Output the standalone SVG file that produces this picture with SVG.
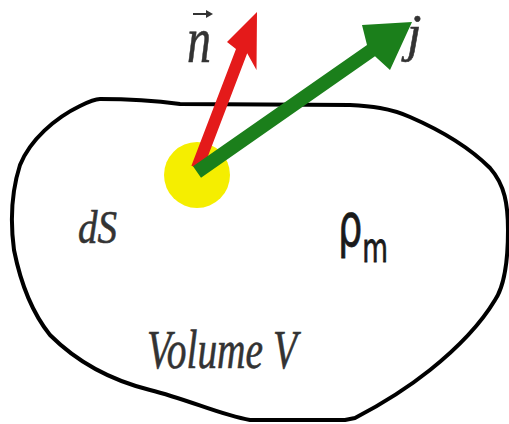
<svg xmlns="http://www.w3.org/2000/svg" width="509" height="424" viewBox="0 0 509 424">
<style>
.it{font-family:"Liberation Serif","DejaVu Serif",serif;font-style:italic;fill:#333;stroke:#333;stroke-width:0.6}
.sans{font-family:"DejaVu Sans","Liberation Sans",sans-serif;fill:#1a1a1a;stroke:#1a1a1a;stroke-width:0.8}
.outline{fill:none;stroke:#000;stroke-width:4;stroke-linejoin:round}
.accent{fill:none;stroke:#333;stroke-width:2}
</style>
<rect width="509" height="424" fill="#fff"/>
<g id="volume">
<path class="outline" d="M 100 99 C 130 99 150 100 180 104 L 350 105 C 370 106 390 108 410 117 C 440 130 470 148 490 168 C 505 185 508 205 508 230 C 508 260 505 285 495 300 C 480 325 455 350 430 370 C 405 390 380 405 355 418 L 345 420 L 250 420 C 220 415 190 400 150 390 C 110 380 75 360 50 335 C 30 310 20 280 14 250 C 10 220 12 190 20 165 C 30 140 55 118 80 106 C 90 101 95 99 100 99 Z"/>
</g>
<g id="dS-spot">
<circle cx="197" cy="175" r="33" fill="#f5ee00"/>
</g>
<g id="connectors">
<polygon fill="#e41a1a" points="191.4,165.8 236,48.9 227,42 257,12 256.5,70 247.2,53.3 202.6,170.2"/>
<polygon fill="#1b7f1b" points="193,166.3 367,44.9 362,25 412,22 390,70 375,56.3 201,177.7"/>
</g>
<g id="labels">
<text class="it" x="187" y="62" font-size="66" textLength="24" lengthAdjust="spacingAndGlyphs">n</text>
<path class="accent" d="M 193 14 L 211 14"/>
<path d="M 206 10 L 213 14 L 206 18 Z" fill="#333"/>
<text class="it" x="407" y="51" font-size="52">j</text>
<text class="it" x="78" y="243" font-size="46" textLength="39" lengthAdjust="spacingAndGlyphs">dS</text>
<text class="sans" transform="translate(338,246) scale(0.66,1)" font-size="58">ρ<tspan font-size="40" dy="16">m</tspan></text>
<text class="it" x="147" y="368" font-size="54" textLength="150" lengthAdjust="spacingAndGlyphs">Volume V</text>
</g>
</svg>
